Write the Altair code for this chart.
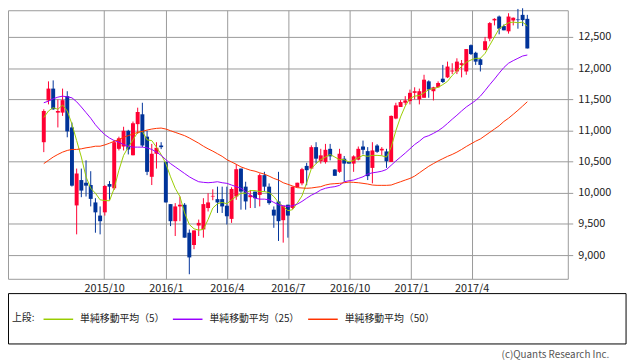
import altair as alt
import pandas as pd

# ---- data (weekly candles, Jul 2015 - Jun 2017) ----
start_date = "2015-07-03"
n_weeks = 104

opens = [10811, 11481, 11671, 11286, 11286, 11550, 11048, 9797, 10204, 10161,
         10124, 9845, 9634, 9686, 10140, 10072, 10705, 10742, 10995, 10600,
         11101, 11259, 10900, 10256, 10626, 10758, 10494, 9818, 9544, 9781,
         9808, 9359, 9162, 9475, 9412, 9755, 9940, 9898, 9898, 9792,
         9581, 9940, 10388, 10098, 9929, 10019, 9966, 10283, 10098, 9729,
         9861, 9560, 9808, 9755, 10088, 10151, 10431, 10388, 10732, 10505,
         10494, 10705, 10373, 10336, 10547, 10494, 10468, 10531, 10742, 10668,
         10399, 10758, 10679, 10663, 10494, 11191, 11376, 11444, 11471, 11603,
         11497, 11524, 11787, 11629, 11692, 11830, 11851, 11946, 11946, 12051,
         11946, 12368, 12246, 12141, 12289, 12474, 12765, 12827, 12674, 12590,
         12764, 12780, 12854, 12790]
highs = [11339, 11787, 11803, 11497, 11671, 11629, 11127, 10388, 10388, 10520,
         10346, 9913, 9781, 10124, 10188, 10848, 10900, 11059, 11010, 11143,
         11365, 11444, 10995, 10784, 10811, 10811, 10500, 9818, 9834, 9940,
         9834, 9412, 9396, 9570, 9913, 9993, 10056, 10098, 10098, 10098,
         10088, 10457, 10388, 10177, 10045, 10019, 10309, 10336, 10150, 9781,
         10336, 9792, 9808, 10098, 10161, 10400, 10480, 10760, 10811, 10705,
         10784, 10784, 10380, 10705, 10590, 10500, 10600, 10742, 10837, 10732,
         10811, 10780, 10732, 10705, 11240, 11444, 11486, 11550, 11655, 11692,
         11671, 11893, 11803, 11700, 11787, 12051, 12104, 12078, 12157, 12130,
         12305, 12380, 12262, 12157, 12500, 12738, 12800, 12843, 12700, 12880,
         12812, 12949, 12960, 12854]
lows = [10652, 11418, 11330, 11048, 11233, 10890, 10100, 9333, 9929, 9940,
        9781, 9359, 9333, 9634, 9887, 10045, 10679, 10679, 10615, 10600,
        10943, 10732, 10283, 10124, 10388, 10700, 9845, 9465, 9306, 9544,
        9280, 8693, 9095, 9306, 9280, 9700, 9880, 9676, 9676, 9491,
        9517, 9887, 9729, 9729, 9755, 9755, 9781, 10019, 9808, 9438,
        9227, 9200, 9280, 9740, 10088, 10120, 10120, 10388, 10468, 10468,
        10468, 10520, 10272, 10320, 10177, 10468, 10336, 10520, 10615, 10204,
        10151, 10640, 10600, 10399, 10494, 11180, 11376, 11407, 11418, 11497,
        11418, 11524, 11524, 11481, 11692, 11761, 11840, 11904, 11904, 11851,
        11893, 12210, 12051, 11946, 12289, 12431, 12685, 12542, 12606, 12553,
        12685, 12632, 12674, 12315]
closes = [11312, 11671, 11339, 11312, 11486, 10985, 10114, 10309, 10035, 10114,
          9902, 9686, 9544, 10109, 10098, 10811, 10874, 10995, 10695, 11117,
          11296, 10758, 10336, 10626, 10721, 10732, 9845, 9544, 9781, 9808,
          9280, 8963, 9396, 9517, 9818, 9845, 9950, 9845, 9781, 9623,
          10061, 10378, 10019, 9861, 9961, 9913, 10283, 10098, 9834, 9634,
          9544, 9792, 9634, 10098, 10161, 10378, 10362, 10732, 10547, 10600,
          10689, 10584, 10272, 10626, 10468, 10468, 10584, 10705, 10689, 10267,
          10679, 10657, 10705, 10505, 11233, 11402, 11455, 11481, 11603, 11629,
          11629, 11814, 11655, 11692, 11761, 11777, 12025, 11961, 12104, 12078,
          12305, 12225, 12104, 12051, 12431, 12722, 12790, 12632, 12606, 12827,
          12806, 12770, 12770, 12315]

ma5 = [11207, 11312, 11365, 11339, 11407, 11312, 11101, 10837, 10573, 10256,
       10072, 9993, 9887, 9876, 9871, 10072, 10362, 10600, 10732, 10848,
       10969, 10985, 10848, 10837, 10732, 10615, 10468, 10256, 10072, 9940,
       9676, 9491, 9422, 9401, 9412, 9570, 9755, 9824, 9845, 9824,
       9887, 9940, 9993, 9993, 10035, 10035, 10019, 10019, 10003, 9940,
       9845, 9781, 9713, 9729, 9834, 9950, 10161, 10388, 10468, 10531,
       10573, 10615, 10573, 10531, 10531, 10494, 10520, 10563, 10600, 10584,
       10600, 10600, 10594, 10573, 10732, 10995, 11217, 11391, 11513, 11550,
       11560, 11603, 11655, 11671, 11692, 11735, 11787, 11882, 11956, 12025,
       12094, 12130, 12157, 12157, 12236, 12368, 12500, 12632, 12685, 12727,
       12738, 12727, 12738, 12674]
ma25 = [11444, 11470, 11508, 11534, 11550, 11539, 11523, 11460, 11376, 11286,
        11196, 11091, 11006, 10932, 10879, 10837, 10811, 10774, 10747, 10732,
        10732, 10732, 10721, 10695, 10652, 10600, 10531, 10468, 10415, 10362,
        10309, 10256, 10214, 10177, 10167, 10161, 10167, 10177, 10161, 10151,
        10124, 10098, 10072, 10019, 9966, 9913, 9898, 9898, 9887, 9845,
        9808, 9792, 9781, 9792, 9818, 9861, 9913, 9961, 9998, 10045,
        10072, 10088, 10098, 10119, 10177, 10193, 10204, 10230, 10256, 10299,
        10320, 10331, 10346, 10373, 10441, 10510, 10573, 10637, 10705, 10774,
        10827, 10890, 10916, 10953, 10995, 11048, 11112, 11180, 11244, 11312,
        11376, 11428, 11481, 11550, 11640, 11735, 11824, 11919, 12009, 12078,
        12120, 12157, 12194, 12210]
ma50 = [10468, 10520, 10573, 10615, 10652, 10679, 10695, 10695, 10705, 10721,
        10732, 10747, 10747, 10768, 10795, 10827, 10853, 10890, 10916, 10943,
        10969, 10985, 11006, 11022, 11033, 11038, 11022, 10995, 10969, 10943,
        10916, 10879, 10837, 10795, 10747, 10705, 10668, 10626, 10584, 10531,
        10494, 10457, 10415, 10388, 10362, 10346, 10320, 10299, 10267, 10230,
        10204, 10161, 10135, 10109, 10082, 10077, 10072, 10077, 10088, 10098,
        10124, 10140, 10146, 10151, 10161, 10172, 10167, 10161, 10151, 10140,
        10124, 10119, 10119, 10119, 10124, 10151, 10177, 10204, 10230, 10267,
        10320, 10373, 10425, 10468, 10510, 10547, 10584, 10615, 10652, 10695,
        10742, 10785, 10827, 10863, 10916, 10969, 11022, 11075, 11143, 11196,
        11259, 11323, 11391, 11460]

ma_labels = ["単純移動平均（5）", "単純移動平均（25）", "単純移動平均（50）"]
ma_colors = ["#99CC00", "#9900FF", "#FF3300"]
up_color = "#FF0033"
down_color = "#003399"
y_ticks = [9000, 9500, 10000, 10500, 11000, 11500, 12000, 12500]
x_ticks = [(2015, 10), (2016, 1), (2016, 4), (2016, 7), (2016, 10), (2017, 1), (2017, 4)]
legend_title = "上段:"
credit = "(c)Quants Research Inc."

# ---- tables ----
dates = pd.date_range(start_date, periods=n_weeks, freq="7D").strftime("%Y-%m-%d").tolist()
candles = pd.DataFrame({"date": dates, "open": opens, "high": highs,
                        "low": lows, "close": closes})
ma = pd.concat([
    pd.DataFrame({"date": dates, "series": ma_labels[0], "value": ma5}),
    pd.DataFrame({"date": dates, "series": ma_labels[1], "value": ma25}),
    pd.DataFrame({"date": dates, "series": ma_labels[2], "value": ma50}),
], ignore_index=True)

FONT = "Noto Sans CJK JP"

xscale = alt.Scale(type="utc",
                   domain=[alt.DateTime(year=2015, month=5, date=18, utc=True),
                           alt.DateTime(year=2017, month=8, date=15, utc=True)])
yscale = alt.Scale(domain=[8620, 12928], zero=False, nice=False)

xaxis = alt.Axis(values=[alt.DateTime(year=y, month=m, date=1, utc=True) for y, m in x_ticks],
                 format="%Y/%-m", title=None, grid=True, ticks=False, labelPadding=4,
                 labelFlush=False, labelOverlap=False)
yaxis = alt.Axis(orient="right", values=y_ticks, format=",.0f", title=None, grid=True,
                 ticks=True, tickSize=5, tickColor="#999999", labelPadding=5,
                 labelOverlap=False, labelFlush=False)

cond = alt.condition("datum.close >= datum.open", alt.value(up_color), alt.value(down_color))

base = alt.Chart(candles).encode(x=alt.X("date:T", scale=xscale, axis=xaxis))
wicks = base.mark_rule(strokeWidth=1).encode(
    y=alt.Y("low:Q", scale=yscale, axis=yaxis), y2="high:Q", color=cond)
bodies = base.mark_bar(size=4).encode(
    y=alt.Y("open:Q", scale=yscale, axis=yaxis), y2="close:Q", color=cond)

lines = alt.Chart(ma).mark_line(strokeWidth=1).encode(
    x=alt.X("date:T", scale=xscale, axis=xaxis),
    y=alt.Y("value:Q", scale=yscale, axis=yaxis),
    color=alt.Color("series:N", sort=ma_labels,
                    scale=alt.Scale(domain=ma_labels, range=ma_colors),
                    legend=alt.Legend(orient="none", legendX=35, legendY=297,
                                      direction="horizontal", title=None,
                                      symbolType="stroke", symbolSize=900,
                                      symbolStrokeWidth=1.5, labelFont=FONT,
                                      labelFontSize=10, labelColor="#222222",
                                      labelOffset=6, columnPadding=5, padding=0)),
)

one = pd.DataFrame({"k": [0]})
box = alt.Chart(one).mark_rect(fill="white", stroke="black", strokeWidth=1).encode(
    x=alt.value(0.5), x2=alt.value(626), y=alt.value(287), y2=alt.value(338))
title_text = alt.Chart(one).mark_text(align="left", baseline="middle", font=FONT,
                                      fontSize=10, color="#222222").encode(
    x=alt.value(4), y=alt.value(312), text=alt.value(legend_title))
credit_text = alt.Chart(one).mark_text(align="right", baseline="alphabetic", font=FONT,
                                       fontSize=10, color="#555555").encode(
    x=alt.value(609), y=alt.value(352), text=alt.value(credit))

chart = alt.layer(box, wicks, bodies, lines, title_text, credit_text).properties(
    width=567, height=272,
    padding={"left": 0, "top": 0, "right": 63, "bottom": 82},
    autosize=alt.AutoSizeParams(type="none"),
).configure_view(stroke="#999999", strokeWidth=1).configure_axis(
    domain=False, gridColor="#999999", gridWidth=1, labelFont=FONT,
    labelFontSize=11, labelColor="#222222")

chart.save("out.html", embed_options={"renderer": "svg", "actions": False})
